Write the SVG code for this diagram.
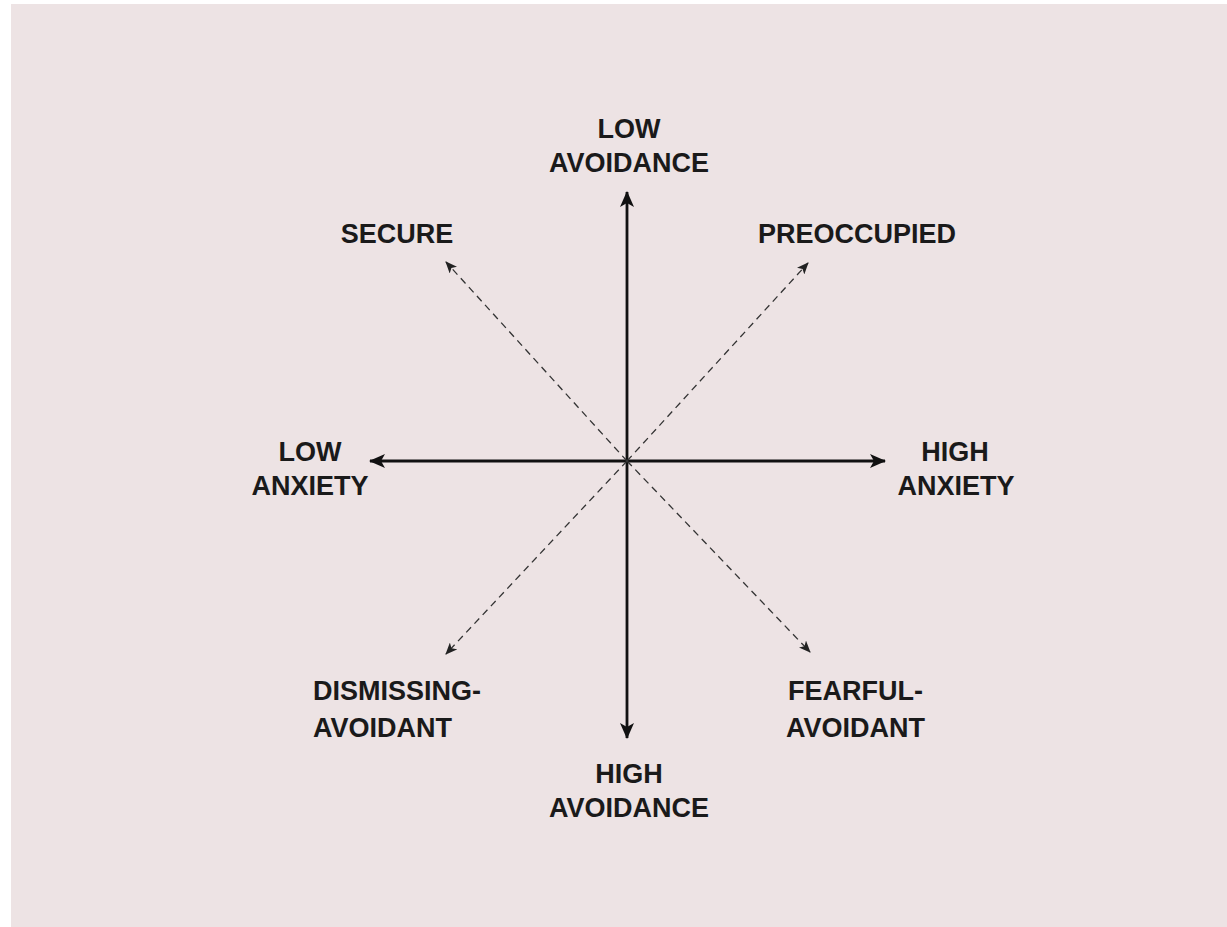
<svg xmlns="http://www.w3.org/2000/svg" width="1227" height="927" viewBox="0 0 1227 927">
<style>
.t{font-family:"Liberation Sans",Arial,sans-serif;font-weight:bold;font-size:27px;fill:#1a1a1a}
.m{text-anchor:middle}
.axis{stroke:#111;stroke-width:2.8;fill:none}
.diag{stroke:#333;stroke-width:1.3;stroke-dasharray:7 5;fill:none}
</style>
<defs>
<marker id="ah" viewBox="0 0 16 14" refX="15" refY="7" markerWidth="16" markerHeight="14" markerUnits="userSpaceOnUse" orient="auto">
<path d="M0,0 L16,7 L0,14 L4,7 Z" fill="#111"/>
</marker>
<marker id="dh" viewBox="0 0 12 10" refX="11" refY="5" markerWidth="12" markerHeight="10" markerUnits="userSpaceOnUse" orient="auto">
<path d="M0,0 L12,5 L0,10 L3,5 Z" fill="#222"/>
</marker>
</defs>
<rect x="0" y="0" width="1227" height="927" fill="#ffffff"/>
<rect x="11" y="4" width="1216" height="923" fill="#ede3e4"/>
<g id="connectors">
<line class="axis" x1="627" y1="461" x2="627" y2="192" marker-end="url(#ah)"/>
<line class="axis" x1="627" y1="461" x2="627" y2="738" marker-end="url(#ah)"/>
<line class="axis" x1="627" y1="461" x2="370" y2="461" marker-end="url(#ah)"/>
<line class="axis" x1="627" y1="461" x2="885" y2="461" marker-end="url(#ah)"/>
<line class="diag" x1="627" y1="461" x2="446" y2="262" marker-end="url(#dh)"/>
<line class="diag" x1="627" y1="461" x2="808" y2="263" marker-end="url(#dh)"/>
<line class="diag" x1="627" y1="461" x2="446" y2="654" marker-end="url(#dh)"/>
<line class="diag" x1="627" y1="461" x2="810" y2="652" marker-end="url(#dh)"/>
</g>
<g id="low-avoidance"><text class="t m" x="629" y="138">LOW</text><text class="t m" x="629" y="172">AVOIDANCE</text></g>
<g id="secure"><text class="t m" x="397" y="243">SECURE</text></g>
<g id="preoccupied"><text class="t m" x="857" y="243">PREOCCUPIED</text></g>
<g id="low-anxiety"><text class="t m" x="310" y="461">LOW</text><text class="t m" x="310" y="495">ANXIETY</text></g>
<g id="high-anxiety"><text class="t m" x="955" y="461">HIGH</text><text class="t m" x="956" y="495">ANXIETY</text></g>
<g id="dismissing-avoidant"><text class="t" x="313" y="700">DISMISSING-</text><text class="t" x="313" y="737">AVOIDANT</text></g>
<g id="fearful-avoidant"><text class="t" x="788" y="700">FEARFUL-</text><text class="t" x="786" y="737">AVOIDANT</text></g>
<g id="high-avoidance"><text class="t m" x="629" y="783">HIGH</text><text class="t m" x="629" y="817">AVOIDANCE</text></g>
</svg>
